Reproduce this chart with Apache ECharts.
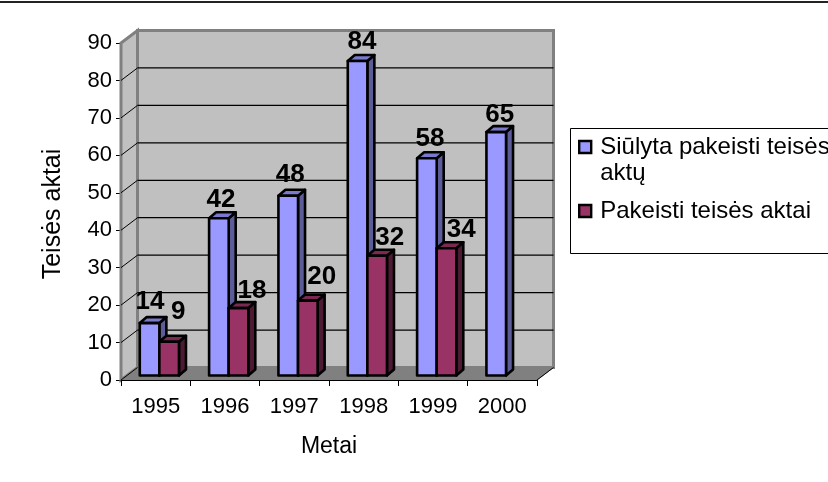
<!DOCTYPE html>
<html>
<head>
<meta charset="utf-8">
<style>html,body{margin:0;padding:0;background:#fff}#c{width:828px;height:482px}</style>
<script src="https://cdn.jsdelivr.net/npm/echarts@6/dist/echarts.min.js"></script>
</head>
<body>
<div id="c"></div>
<script>
const years = ['1995','1996','1997','1998','1999','2000'];
const proposedName = 'Siūlyta pakeisti teisės';
const proposedNameLine2 = 'aktų';
const changedName = 'Pakeisti teisės aktai';
const proposed = [14,42,48,84,58,65];
const changed = [9,18,20,32,34,null];
const yTicks = [0,10,20,30,40,50,60,70,80,90];

const FONT = '"Liberation Sans", Arial, sans-serif';
const WALL = [16.5,-12.5];     // wall depth
const BAR_PLANE = [3.7,-4.5];  // bar front plane relative to axis plane
const BAR_DEPTH = [7,-6];
const BAR_W = 19.6;
// hand-placed data label offsets, [dx, dy] per category
const proposedLabelOffset = [[0.5,-8.5],[2,-5.5],[2,-7.5],[4.5,-6.5],[3,-6.5],[3.5,-4.5]];
const changedLabelOffset = [[9,-16.5],[13.5,-4.5],[14,-10.5],[12.5,-4.5],[14.7,-5.5],[0,0]];

function barItem(side, colors, offsets){
  return function(params, api){
    const i = api.value(0), v = api.value(1);
    if (v == null || isNaN(v)) return;
    const base = api.coord([i,0]), top = api.coord([i,v]);
    const cx = base[0] + BAR_PLANE[0];
    const x0 = side < 0 ? cx - BAR_W : cx;
    const x1 = x0 + BAR_W;
    const yB = base[1] + BAR_PLANE[1], yT = top[1] + BAR_PLANE[1];
    const dx = BAR_DEPTH[0], dy = BAR_DEPTH[1];
    const s = {stroke:'#000', lineWidth:2.6, lineJoin:'round'};
    return {type:'group', children:[
      {type:'polygon', shape:{points:[[x1,yB],[x1+dx,yB+dy],[x1+dx,yT+dy],[x1,yT]]}, style:Object.assign({fill:colors[1]},s)},
      {type:'polygon', shape:{points:[[x0,yT],[x1,yT],[x1+dx,yT+dy],[x0+dx,yT+dy]]}, style:Object.assign({fill:colors[2]},s)},
      {type:'polygon', shape:{points:[[x0,yB],[x1,yB],[x1,yT],[x0,yT]]}, style:Object.assign({fill:colors[0]},s)},
      {type:'text', z2:100, style:{text:String(v), x:(x0+x1)/2+offsets[i][0], y:yT+offsets[i][1], fill:'#000',
        font:'bold 26px '+FONT, textAlign:'center', textVerticalAlign:'bottom'}}
    ]};
  };
}

const chart = echarts.init(document.getElementById('c'), null, {renderer:'canvas'});
chart.setOption({
  animation:false,
  backgroundColor:'#fff',
  grid:{left:121, top:43, width:416, height:337, containLabel:false},
  xAxis:{type:'category', data:years, boundaryGap:true, z:2,
    axisLine:{lineStyle:{color:'#000',width:1}},
    axisTick:{show:true,length:6,lineStyle:{color:'#000'}},
    axisLabel:{color:'#000',fontSize:22,fontFamily:FONT,margin:16},
    name:'Metai', nameLocation:'middle', nameGap:55,
    nameTextStyle:{color:'#000',fontSize:23,fontFamily:FONT}},
  yAxis:{type:'value', min:0, max:90, interval:10,
    axisLine:{show:true,lineStyle:{color:'#000',width:1}},
    axisTick:{show:true,length:5,lineStyle:{color:'#000'}},
    splitLine:{show:false},
    axisLabel:{color:'#000',fontSize:22,fontFamily:FONT,margin:9},
    name:'Teisės aktai', nameLocation:'middle', nameGap:55,
    nameTextStyle:{color:'#000',fontSize:25,fontFamily:FONT,padding:[0,5,0,0]}},
  legend:{data:[proposedName,changedName], orient:'vertical', left:578, top:108, padding:0,
    selectedMode:false, itemWidth:12, itemHeight:12, itemGap:12, icon:'rect',
    itemStyle:{borderColor:'#000',borderWidth:2.4},
    formatter:n => n===proposedName ? '\n'+n+'\n'+proposedNameLine2 : n,
    textStyle:{color:'#000',fontSize:24,fontFamily:FONT,lineHeight:26,padding:[0,0,0,4]}},
  graphic:[
    {type:'rect', shape:{x:570.5,y:128.5,width:300,height:125}, style:{fill:'#fff',stroke:'#000',lineWidth:1}, z:-1},
    {type:'rect', shape:{x:0,y:1,width:828,height:2}, style:{fill:'#222'}, z:-1}
  ],
  series:[
    {type:'custom', silent:true, z:1, data:[[0]], clip:false,
     renderItem:(p,api)=>{
       const c=p.coordSys, x=c.x, y=c.y, w=c.width, h=c.height, b=y+h, r=x+w, d=WALL;
       const s={stroke:'#808080',lineWidth:3};
       return {type:'group',children:[
         {type:'polygon',shape:{points:[[x,b],[x+d[0],b+d[1]],[x+d[0],y+d[1]],[x,y]]},style:Object.assign({fill:'#C0C0C0'},s)},
         {type:'polygon',shape:{points:[[x+d[0],b+d[1]],[r+d[0],b+d[1]],[r+d[0],y+d[1]],[x+d[0],y+d[1]]]},style:Object.assign({fill:'#C0C0C0'},s)},
         {type:'polygon',shape:{points:[[x,b],[r,b],[r+d[0],b+d[1]],[x+d[0],b+d[1]]]},style:{fill:'#808080',stroke:'#808080',lineWidth:1}},
         {type:'polyline',shape:{points:[[r,b],[r+d[0],b+d[1]]]},style:{stroke:'#000',lineWidth:1,fill:'none'}}
       ]};
     }},
    {type:'custom', silent:true, z:2, data:yTicks.filter(t=>t<90).map(t=>[0,t]), clip:false,
     renderItem:(p,api)=>{
       const c=p.coordSys, t=api.value(1), yy=api.coord([0,t])[1], d=WALL;
       const ch=[{type:'line',shape:{x1:c.x,y1:yy,x2:c.x+d[0],y2:yy+d[1]},style:{stroke:'#000',lineWidth:1}}];
       if(t>0) ch.push({type:'line',shape:{x1:c.x+d[0],y1:yy+d[1],x2:c.x+c.width+d[0],y2:yy+d[1]},style:{stroke:'#000',lineWidth:1.2}});
       return {type:'group',children:ch};
     }},
    {name:proposedName, type:'custom', z:3, clip:false,
     itemStyle:{color:'#9999FF',borderColor:'#000',borderWidth:2},
     data:proposed.map((v,i)=>[i,v]), encode:{x:0,y:1},
     renderItem:barItem(-1,['#9999FF','#5C5C99','#7A7ACC'],proposedLabelOffset)},
    {name:changedName, type:'custom', z:3, clip:false,
     itemStyle:{color:'#993366',borderColor:'#000',borderWidth:2},
     data:changed.map((v,i)=>[i,v]), encode:{x:0,y:1},
     renderItem:barItem(1,['#993366','#4D1A33','#7A2952'],changedLabelOffset)}
  ]
});
</script>
</body>
</html>
